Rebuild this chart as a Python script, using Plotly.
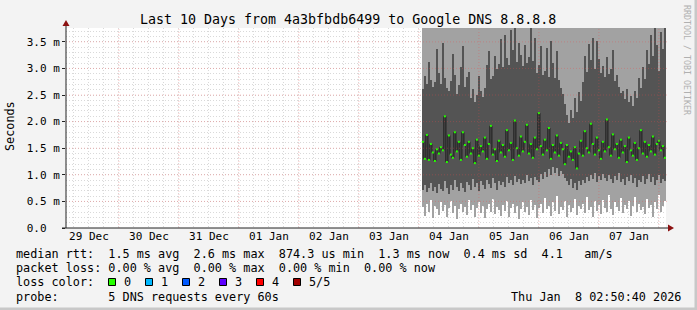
import pandas as pd
import plotly.graph_objects as go

# ---------------- data (round-trip times in milliseconds) ----------------
bin_start = "2026-01-04 01:12:00"   # first consolidated bin
bin_minutes = 48                     # consolidation step

# lowest ping of each bin (white below)
rtt_min = [0.40, 0.22, 0.45, 0.30, 0.52, 0.18, 0.42, 0.35, 0.25, 0.48,
           0.32, 0.44, 0.20, 0.38, 0.50, 0.28, 0.42, 0.16, 0.36, 0.46,
           0.30, 0.40, 0.24, 0.52, 0.34, 0.44, 0.20, 0.38, 0.48, 0.28,
           0.42, 0.18, 0.36, 0.46, 0.30, 0.55, 0.26, 0.40, 0.34, 0.22,
           0.44, 0.32, 0.50, 0.20, 0.38, 0.46, 0.28, 0.42, 0.16, 0.36,
           0.48, 0.30, 0.40, 0.24, 0.52, 0.34, 0.44, 0.18, 0.38, 0.46,
           0.28, 0.56, 0.36, 0.42, 0.22, 0.48, 0.32, 0.60, 0.26, 0.40,
           0.34, 0.50, 0.20, 0.44, 0.30, 0.38, 0.54, 0.24, 0.42, 0.36,
           0.46, 0.28, 0.58, 0.34, 0.40, 0.20, 0.50, 0.32, 0.44, 0.26,
           0.52, 0.38, 0.30, 0.62, 0.36, 0.24, 0.48, 0.40, 0.32, 0.56,
           0.28, 0.44, 0.36, 0.50, 0.22, 0.42, 0.58, 0.30, 0.46, 0.34,
           0.40, 0.26, 0.54, 0.38, 0.44, 0.20, 0.48, 0.36, 0.62, 0.30,
           0.42, 0.50]

# lower edge of the dense smoke (2nd ping)
rtt_low = [0.72, 0.80, 0.68, 0.76, 0.85, 0.70, 0.78, 0.66, 0.82, 0.74,
           0.70, 0.88, 0.76, 0.64, 0.80, 0.72, 0.90, 0.78, 0.70, 0.84,
           0.75, 0.68, 0.86, 0.80, 0.72, 0.92, 0.78, 0.84, 0.70, 0.88,
           0.80, 0.74, 0.90, 0.82, 0.76, 0.94, 0.85, 0.72, 0.88, 0.80,
           0.86, 0.78, 0.95, 0.84, 0.90, 0.80, 0.98, 0.86, 0.92, 0.82,
           0.90, 0.84, 1.00, 0.88, 0.94, 0.80, 0.96, 0.90, 0.86, 1.02,
           0.92, 1.05, 0.96, 1.10, 1.00, 1.15, 1.04, 1.12, 0.98, 1.08,
           1.02, 0.94, 0.88, 0.80, 0.92, 0.76, 0.85, 0.72, 0.88, 0.80,
           0.90, 0.84, 0.96, 0.88, 1.00, 0.92, 1.04, 0.86, 0.98, 0.90,
           1.02, 0.94, 0.88, 1.00, 0.92, 0.84, 0.98, 0.90, 1.04, 0.86,
           0.92, 0.80, 0.96, 0.88, 1.00, 0.84, 0.94, 0.78, 0.90, 0.86,
           0.98, 0.82, 0.92, 1.02, 0.86, 0.96, 0.80, 0.90, 1.00, 0.84,
           0.92, 0.88]

# upper edge of the dense smoke (4th ping)
rtt_high = [2.62, 2.85, 2.70, 3.12, 2.78, 2.66, 2.74, 3.36, 2.92, 2.70,
            3.48, 2.82, 2.64, 2.58, 2.76, 3.28, 2.88, 2.52, 2.68, 3.02,
            3.42, 2.66, 2.84, 2.94, 2.44, 2.62, 2.36, 2.50, 2.86, 2.58,
            2.46, 2.64, 3.06, 3.32, 2.80, 2.86, 3.24, 2.98, 3.08, 3.56,
            3.02, 3.62, 3.20, 3.06, 3.72, 3.34, 3.76, 3.12, 3.48, 3.26,
            3.04, 3.44, 3.10, 3.22, 3.76, 3.14, 3.58, 2.92, 3.06, 3.42,
            2.88, 2.96, 3.38, 2.84, 3.52, 3.10, 2.82, 3.32, 2.78, 2.64,
            2.52, 2.34, 2.12, 1.98, 2.22, 2.06, 2.44, 2.18, 2.56, 2.38,
            2.74, 3.24, 2.94, 3.46, 3.16, 3.58, 2.98, 3.52, 3.18, 2.92,
            3.04, 2.84, 3.22, 2.90, 2.98, 3.34, 2.76, 2.88, 2.66, 2.54,
            2.58, 2.42, 2.62, 2.36, 2.48, 2.30, 2.58, 2.44, 2.82, 2.64,
            3.02, 2.80, 3.34, 3.08, 3.62, 3.24, 3.76, 3.44, 2.96, 3.68,
            3.36, 3.76]

# median rtt of each bin
rtt_median = [1.62, 1.30, 1.75, 1.28, 1.58, 1.42, 1.26, 1.48, 1.40, 1.52,
              1.46, 2.10, 1.24, 1.74, 1.38, 1.32, 1.80, 1.44, 1.62, 1.28,
              1.80, 1.56, 1.34, 1.62, 1.40, 1.50, 1.22, 1.66, 1.36, 1.54,
              1.44, 1.70, 1.30, 1.58, 1.92, 1.38, 1.48, 1.26, 1.64, 1.42,
              1.56, 1.34, 1.84, 1.46, 1.60, 1.28, 2.02, 1.50, 1.36, 1.72,
              1.44, 1.62, 1.94, 1.40, 1.58, 1.32, 1.70, 1.48, 2.16, 1.54,
              1.38, 1.66, 1.46, 1.88, 1.30, 1.56, 1.42, 1.74, 1.36, 1.60,
              1.48, 1.20, 1.56, 1.34, 1.44, 1.28, 1.52, 1.12, 1.40, 1.64,
              1.36, 1.82, 1.50, 1.42, 1.96, 1.58, 1.38, 1.70, 1.46, 1.30,
              1.62, 1.44, 2.04, 1.52, 1.36, 1.76, 1.48, 1.58, 1.32, 1.66,
              1.42, 1.54, 1.24, 1.70, 1.46, 1.36, 1.60, 1.28, 1.50, 1.84,
              1.40, 1.62, 1.34, 1.56, 1.44, 1.72, 1.38, 1.58, 1.64, 1.46,
              1.54, 1.32]

x_tick_dates = ["2025-12-29 12:00", "2025-12-30 12:00", "2025-12-31 12:00",
                "2026-01-01 12:00", "2026-01-02 12:00", "2026-01-03 12:00",
                "2026-01-04 12:00", "2026-01-05 12:00", "2026-01-06 12:00",
                "2026-01-07 12:00"]
x_tick_labels = ["29 Dec", "30 Dec", "31 Dec", "01 Jan", "02 Jan",
                 "03 Jan", "04 Jan", "05 Jan", "06 Jan", "07 Jan"]
y_tick_values = [0.0, 0.5, 1.0, 1.5, 2.0, 2.5, 3.0, 3.5]
y_tick_labels = ["0.0  ", "0.5 m", "1.0 m", "1.5 m", "2.0 m", "2.5 m", "3.0 m", "3.5 m"]

loss_labels = ["0", "1", "2", "3", "4", "5/5"]
loss_colors = ["#26ff00", "#00b8ff", "#0059ff", "#5e00ff", "#ff0000", "#a10000"]

title = "Last 10 Days from 4a3bfbdb6499 to Google DNS 8.8.8.8"
legend_lines = [
    "median rtt:  1.5 ms avg  2.6 ms max  874.3 us min  1.3 ms now  0.4 ms sd  4.1   am/s",
    "packet loss: 0.00 % avg  0.00 % max  0.00 % min  0.00 % now",
    "loss color:",
    "probe:       5 DNS requests every 60s",
]
stamp = "Thu Jan  8 02:50:40 2026"

x_range = ["2025-12-29 02:50:40", "2026-01-08 02:50:40"]
y_range = [0, 3.76]

# ---------------- geometry / style ----------------
W, H = 697, 310
ML, MR, MT, MB = 66, 31, 28, 82
PW, PH = W - ML - MR, H - MT - MB
MONO = "DejaVu Sans Mono"
LIGHT = "#a2a2a2"
DARK = "#545454"
MEDLINE = "#1a1a1a"
BG = "#f3f3f3"
MINOR = "#d9d9d9"
MAJOR = "rgba(240,70,70,0.32)"


def px(x):
    return (x - ML) / PW


def py(y):
    return (H - MB - y) / PH


def nb(s):
    return s.replace(" ", "\u00a0")


n = len(rtt_median)
t0 = pd.Timestamp(bin_start)
step = pd.Timedelta(minutes=bin_minutes)
edges = [t0 + i * step for i in range(n + 1)]
centers = [t0 + (i + 0.5) * step for i in range(n)]
width_ms = bin_minutes * 60 * 1000
ceiling = y_range[1] + 1.0  # the largest pings are off the chart

fig = go.Figure()
# light smoke: min ping up past the top of the chart
fig.add_trace(go.Bar(x=centers, base=rtt_min, y=[ceiling - v for v in rtt_min],
                     width=width_ms, marker=dict(color=LIGHT, line=dict(width=0)),
                     hoverinfo="skip"))
# dense smoke
fig.add_trace(go.Bar(x=centers, base=rtt_low, y=[h - l for h, l in zip(rtt_high, rtt_low)],
                     width=width_ms, marker=dict(color=DARK, line=dict(width=0)),
                     hoverinfo="skip"))
# median line (step)
fig.add_trace(go.Scatter(x=edges, y=rtt_median + [rtt_median[-1]], mode="lines",
                         line=dict(color=MEDLINE, width=1, shape="hv"), hoverinfo="skip"))
# loss-coloured median marks
gx, gy = [], []
for i, m in enumerate(rtt_median):
    gx += [edges[i], edges[i + 1], None]
    gy += [m, m, None]
fig.add_trace(go.Scatter(x=gx, y=gy, mode="lines", line=dict(color=loss_colors[0], width=2),
                         hoverinfo="skip"))

shapes = []
# major grid (red, drawn over the data)
for d in pd.date_range("2025-12-30", "2026-01-08", freq="D"):
    shapes.append(dict(type="line", xref="x", yref="paper", x0=d, x1=d, y0=0, y1=1,
                       line=dict(color=MAJOR, width=1, dash="1px,2px"),
                       layer="above"))
for v in y_tick_values[1:]:
    shapes.append(dict(type="line", xref="paper", yref="y", x0=0, x1=1.003, y0=v, y1=v,
                       line=dict(color=MAJOR, width=1, dash="1px,2px"),
                       layer="above"))
# axes with arrows
shapes.append(dict(type="line", xref="paper", yref="paper", x0=px(66), x1=px(66),
                   y0=py(228), y1=py(23), line=dict(color="#222", width=1), layer="above"))
shapes.append(dict(type="line", xref="paper", yref="paper", x0=px(62), x1=px(670),
                   y0=py(228), y1=py(228), line=dict(color="#222", width=1), layer="above"))
shapes.append(dict(type="path", xref="paper", yref="paper",
                   path=f"M {px(62.5)} {py(26)} L {px(69.5)} {py(26)} L {px(66)} {py(20)} Z",
                   fillcolor="#8b1010", line=dict(width=0), layer="above"))
shapes.append(dict(type="path", xref="paper", yref="paper",
                   path=f"M {px(668)} {py(224.5)} L {px(668)} {py(231.5)} L {px(674)} {py(228)} Z",
                   fillcolor="#8b1010", line=dict(width=0), layer="above"))
# image frame
shapes.append(dict(type="rect", xref="paper", yref="paper", x0=px(694.5), x1=px(698),
                   y0=py(-1), y1=py(311), fillcolor="#c8c8c8", line=dict(width=0)))
shapes.append(dict(type="rect", xref="paper", yref="paper", x0=px(-1), x1=px(698),
                   y0=py(307.5), y1=py(311), fillcolor="#c8c8c8", line=dict(width=0)))
# loss colour boxes
for k, (lab, col) in enumerate(zip(loss_labels, loss_colors)):
    bx = 108.5 + 37 * k
    shapes.append(dict(type="rect", xref="paper", yref="paper", x0=px(bx), x1=px(bx + 7),
                       y0=py(285.5), y1=py(278.5), fillcolor=col,
                       line=dict(color="#000", width=1)))

ann = []
ann.append(dict(text=nb(title), x=px(348), y=py(19), xref="paper", yref="paper",
                xanchor="center", yanchor="middle", showarrow=False,
                font=dict(family=MONO, size=13.3, color="#000")))
ann.append(dict(text="Seconds", x=px(10), y=py(126), xref="paper", yref="paper",
                xanchor="center", yanchor="middle", showarrow=False, textangle=-90,
                font=dict(family=MONO, size=11.8, color="#000")))
ann.append(dict(text=nb("RRDTOOL / TOBI OETIKER"), x=px(687), y=py(60), xref="paper",
                yref="paper", xanchor="center", yanchor="middle", showarrow=False,
                textangle=90, font=dict(family=MONO, size=8.3, color="#b0b0b0")))
for j, line in enumerate(legend_lines):
    ann.append(dict(text=nb(line), x=px(14), y=py(254 + 14.2 * j), xref="paper",
                    yref="paper", xanchor="left", yanchor="middle", showarrow=False,
                    font=dict(family=MONO, size=11.8, color="#000")))
for k, lab in enumerate(loss_labels):
    ann.append(dict(text=lab, x=px(121.5 + 37 * k), y=py(282.4), xref="paper",
                    yref="paper", xanchor="left", yanchor="middle", showarrow=False,
                    font=dict(family=MONO, size=11.8, color="#000")))
ann.append(dict(text=nb(stamp), x=px(683), y=py(296.6), xref="paper", yref="paper",
                xanchor="right", yanchor="middle", showarrow=False,
                font=dict(family=MONO, size=11.8, color="#000")))

fig.update_layout(
    width=W, height=H, margin=dict(l=ML, r=MR, t=MT, b=MB, pad=0),
    paper_bgcolor=BG, plot_bgcolor="#ffffff", showlegend=False,
    barmode="overlay", bargap=0, shapes=shapes, annotations=ann,
    font=dict(family=MONO, color="#000"),
    xaxis=dict(type="date", range=x_range, tickmode="array",
               tickvals=x_tick_dates, ticktext=x_tick_labels,
               tickfont=dict(family=MONO, size=11, color="#000"),
               ticks="", showline=False, zeroline=False,
               showgrid=True, gridcolor=MINOR, griddash="1px,2px", gridwidth=1,
               minor=dict(tick0="2025-12-29", dtick=6 * 3600 * 1000, showgrid=True,
                          gridcolor=MINOR, griddash="1px,2px", gridwidth=1),
               fixedrange=True),
    yaxis=dict(range=y_range, tickmode="array", tickvals=y_tick_values,
               ticktext=[nb(t) for t in y_tick_labels],
               tickfont=dict(family=MONO, size=11, color="#000"),
               ticks="outside", ticklen=3, tickcolor="#222", showline=False,
               zeroline=False, showgrid=False,
               minor=dict(tick0=0, dtick=0.1, showgrid=True, gridcolor=MINOR,
                          griddash="1px,2px", gridwidth=1),
               fixedrange=True),
)

fig.write_html("out.html")
